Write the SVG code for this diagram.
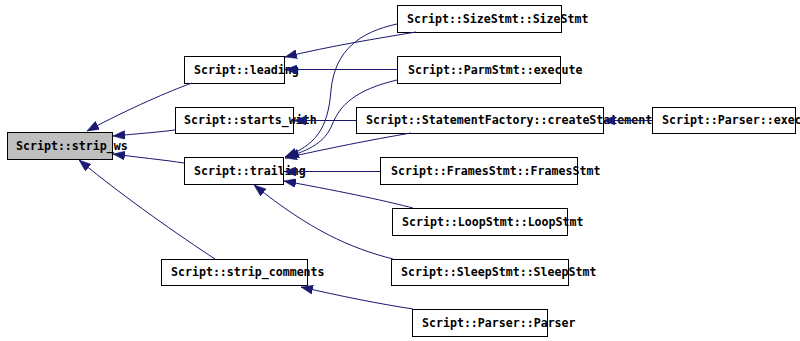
<svg xmlns="http://www.w3.org/2000/svg" width="800" height="341" viewBox="0 0 800 341">
  <style>
    .node rect { fill: #ffffff; stroke: #000000; stroke-width: 1; }
    .node.root rect { fill: #bfbfbf; }
    .node text { font-family: "DejaVu Sans Mono", "Liberation Mono", monospace; font-weight: bold; font-size: 11.6px; fill: #000000; }
    .edges path { fill: none; stroke: #191970; stroke-width: 1; marker-end: url(#arrow); }
  </style>
  <defs>
    <marker id="arrow" viewBox="0 0 12 9" refX="12" refY="4.5" markerWidth="12" markerHeight="9" markerUnits="userSpaceOnUse" orient="auto">
      <polygon points="0,0 12,4.5 0,9" fill="#191970" stroke="#191970" stroke-width="0.5"/>
    </marker>
  </defs>

  <rect width="800" height="341" fill="#ffffff"/>

  <!-- nodes -->
  <g id="node-strip_ws" class="node root">
    <rect x="7.5" y="132.5" width="105" height="27"/>
    <text x="16" y="149.5">Script::strip_ws</text>
  </g>
  <g id="node-leading" class="node">
    <rect x="184.5" y="56.5" width="100" height="27"/>
    <text x="194" y="73.5">Script::leading</text>
  </g>
  <g id="node-starts_with" class="node">
    <rect x="175.5" y="107.5" width="118" height="26"/>
    <text x="184" y="124">Script::starts_with</text>
  </g>
  <g id="node-trailing" class="node">
    <rect x="184.5" y="157.5" width="99" height="27"/>
    <text x="194" y="174.5">Script::trailing</text>
  </g>
  <g id="node-strip_comments" class="node">
    <rect x="161.5" y="259.5" width="146" height="26"/>
    <text x="171" y="276">Script::strip_comments</text>
  </g>
  <g id="node-SizeStmt" class="node">
    <rect x="397.5" y="5.5" width="164" height="27"/>
    <text x="407" y="22.5">Script::SizeStmt::SizeStmt</text>
  </g>
  <g id="node-ParmStmt-execute" class="node">
    <rect x="397.5" y="56.5" width="163" height="27"/>
    <text x="408" y="73.5">Script::ParmStmt::execute</text>
  </g>
  <g id="node-StatementFactory" class="node">
    <rect x="356.5" y="107.5" width="247" height="26"/>
    <text x="366" y="124">Script::StatementFactory::createStatement</text>
  </g>
  <g id="node-Parser-exec" class="node">
    <rect x="652.5" y="107.5" width="143" height="26"/>
    <text x="662" y="124">Script::Parser::exec</text>
  </g>
  <g id="node-FramesStmt" class="node">
    <rect x="380.5" y="157.5" width="197" height="27"/>
    <text x="391" y="174.5">Script::FramesStmt::FramesStmt</text>
  </g>
  <g id="node-LoopStmt" class="node">
    <rect x="392.5" y="208.5" width="175" height="27"/>
    <text x="402" y="225.5">Script::LoopStmt::LoopStmt</text>
  </g>
  <g id="node-SleepStmt" class="node">
    <rect x="391.5" y="259.5" width="177" height="26"/>
    <text x="401" y="276">Script::SleepStmt::SleepStmt</text>
  </g>
  <g id="node-Parser-Parser" class="node">
    <rect x="412.5" y="309.5" width="135" height="27"/>
    <text x="422" y="326.5">Script::Parser::Parser</text>
  </g>

  <!-- connectors (caller -> callee) -->
  <g id="edges" class="edges">
    <path d="M192,83 C170,91 130,108 87,131"/>
    <path d="M175,130 C160,132 135,134 113,136"/>
    <path d="M184,163 C165,160 135,157 113,154"/>
    <path d="M215,259 C180,236 125,198 79,160"/>
    <path d="M416,32 C380,38 330,46 285,57"/>
    <path d="M397,24 C360,32 335,50 331,90 C328,130 315,145 285,157"/>
    <path d="M397,69.5 L285,69.5"/>
    <path d="M397,80 C355,90 340,105 332,125 C325,142 310,150 287,157"/>
    <path d="M356,120.5 L294,120.5"/>
    <path d="M411,133 C370,140 330,148 285,158"/>
    <path d="M652,120.5 L603,120.5"/>
    <path d="M380,171.5 L284,171.5"/>
    <path d="M413,208 C390,202 350,193 284,181"/>
    <path d="M393,259 C350,248 310,230 254,185"/>
    <path d="M413,309 C380,304 340,296 301,287"/>
  </g>
</svg>
